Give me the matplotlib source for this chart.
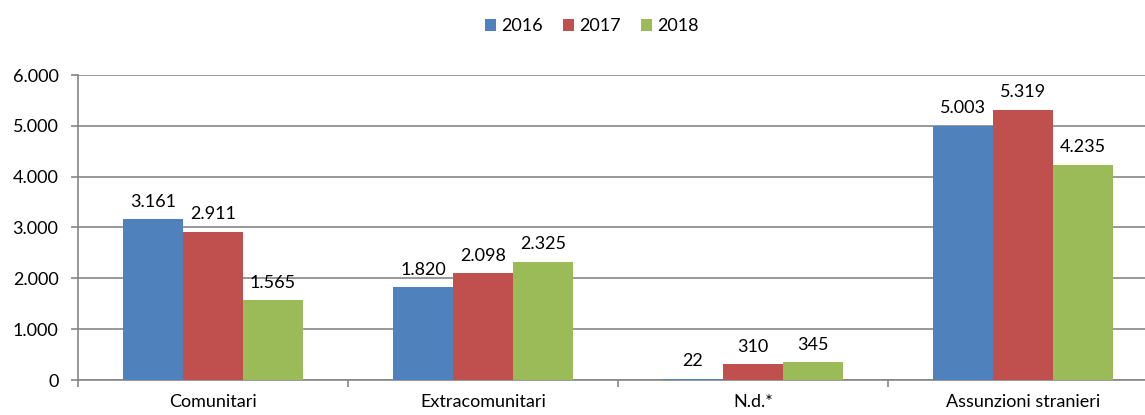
import numpy as np
import matplotlib
matplotlib.use("Agg")
from matplotlib import pyplot as plt

categories = ["Comunitari", "Extracomunitari", "N.d.*", "Assunzioni stranieri"]
years = ["2016", "2017", "2018"]
v2016 = [3161, 1820, 22, 5003]
v2017 = [2911, 2098, 310, 5319]
v2018 = [1565, 2325, 345, 4235]
colors = ["#4F81BD", "#C0504D", "#9BBB59"]

plt.rcParams['font.family'] = ['Lato', 'DejaVu Sans']
fs = 13

fig = plt.figure(figsize=(11.45, 4.15), dpi=100)
# the plot area runs past the right edge of the picture, as in the source
ax = fig.add_axes([78 / 1145, 35 / 415, 1080 / 1145, 305 / 415])

x = np.arange(len(categories))
w = 2 / 9
series = [v2016, v2017, v2018]
for i, vals in enumerate(series):
    pos = x + (i - 1) * w
    bars = ax.bar(pos, vals, width=w, color=colors[i], label=years[i], zorder=3)
    for b, v in zip(bars, vals):
        lab = f"{v:,}".replace(",", ".")
        ax.annotate(lab, (b.get_x() + b.get_width() / 2, v), xytext=(0, 7),
                    textcoords="offset points", ha="center", va="bottom", fontsize=fs)

ax.set_xlim(-0.5, len(categories) - 0.5)
ax.set_ylim(0, 6000)
ax.set_yticks(np.arange(0, 6001, 1000))
ax.set_yticklabels([f"{int(t):,}".replace(",", ".") for t in np.arange(0, 6001, 1000)], fontsize=fs)
ax.yaxis.grid(True, color="#868686", linewidth=1.2, zorder=0)

ax.set_xticks(x)
ax.set_xticklabels(categories, fontsize=fs)
ax.set_xticks(np.arange(-0.5, len(categories), 1), minor=True)
ax.tick_params(axis="x", which="major", length=0, pad=10)
ax.tick_params(axis="x", which="minor", length=5, color="#868686", width=1.2)
ax.tick_params(axis="y", length=5, color="#868686", width=1.2, pad=9)

for s in ["top", "right"]:
    ax.spines[s].set_visible(False)
for s in ["left", "bottom"]:
    ax.spines[s].set_color("#868686")
    ax.spines[s].set_linewidth(1.2)

fig.legend(loc="upper center", bbox_to_anchor=(592 / 1145, 0.995), ncol=3, frameon=False,
           fontsize=fs, handlelength=0.6, handleheight=0.6, handletextpad=0.3, columnspacing=1.1)

fig.savefig("out.png", dpi=100)
